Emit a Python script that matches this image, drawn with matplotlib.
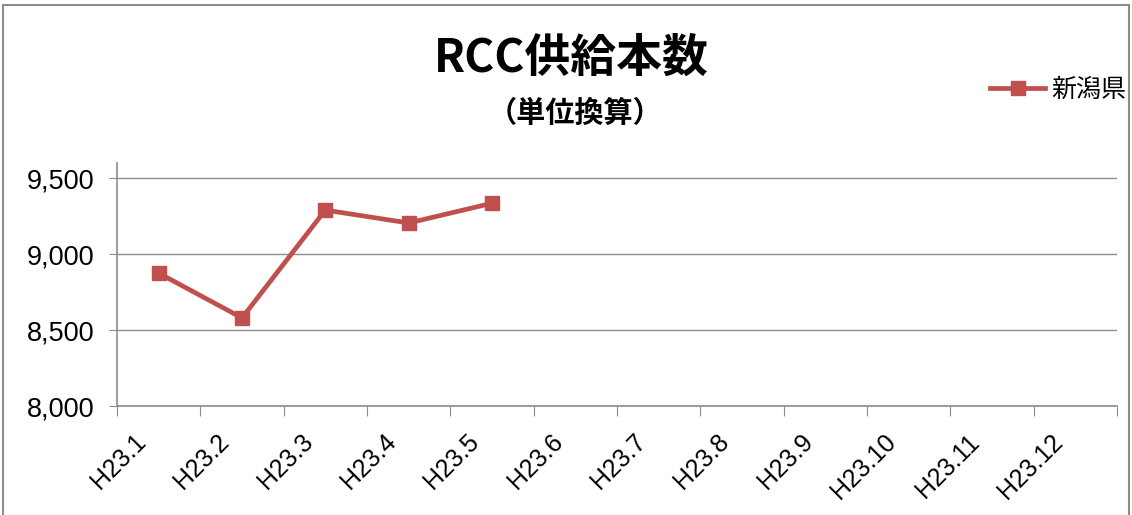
import matplotlib
matplotlib.use('Agg')
import matplotlib.pyplot as plt
from matplotlib.patches import Rectangle

months = ['H23.1', 'H23.2', 'H23.3', 'H23.4', 'H23.5', 'H23.6',
          'H23.7', 'H23.8', 'H23.9', 'H23.10', 'H23.11', 'H23.12']
niigata = [8875, 8580, 9290, 9205, 9335]
yticks = [8000, 8500, 9000, 9500]

cjk = ['Noto Sans CJK JP', 'DejaVu Sans']
latin = ['Liberation Sans', 'DejaVu Sans']

fig = plt.figure(figsize=(11.32, 5.15), dpi=100, facecolor='white')
ax = fig.add_axes([117 / 1132, 1 - 406 / 515, 1000 / 1132, 243 / 515])

x = list(range(len(niigata)))
ax.plot(x, niigata, color='#C0504D', lw=3.4, marker='s', markersize=10,
        markeredgecolor='#C0504D', markerfacecolor='#C0504D', label='新潟県',
        solid_joinstyle='round', zorder=3)

ax.set_xlim(-0.5, len(months) - 0.5)
ax.set_ylim(8000, 9600)
ax.set_yticks(yticks)
ax.set_yticklabels([f'{v:,}' for v in yticks], family=latin, fontsize=19.5)
ax.grid(axis='y', color='#8c8c8c', lw=1)
ax.set_axisbelow(True)

# category ticks sit between categories; rotated labels end a bit left of centre
ax.set_xticks([i - 0.5 for i in range(len(months) + 1)])
ax.set_xticklabels([])
ax.set_xticks([i - 0.3 for i in range(len(months))], minor=True)
ax.set_xticklabels(months, minor=True, rotation=45, ha='right', va='top',
                   rotation_mode='anchor', family=latin, fontsize=18)
ax.tick_params(axis='x', which='major', length=7, color='#8c8c8c', direction='out')
ax.tick_params(axis='x', which='minor', length=0, pad=17)
ax.tick_params(axis='y', length=6, color='#8c8c8c', pad=10)

for s in ['top', 'right']:
    ax.spines[s].set_visible(False)
for s in ['left', 'bottom']:
    ax.spines[s].set_color('#8c8c8c')
    ax.spines[s].set_linewidth(1.2)

fig.text(0.505, 0.885, 'RCC供給本数', family=cjk, fontsize=33, fontweight='bold',
         ha='center', va='center')
fig.text(0.508, 0.78, '（単位換算）', family=cjk, fontsize=21, fontweight='bold',
         ha='center', va='center')

leg = fig.legend(loc='center right', bbox_to_anchor=(1.006, 0.825), frameon=False,
                 prop={'family': cjk, 'size': 18}, handlelength=2.2,
                 handletextpad=0.25, borderaxespad=0.1)

fig.patches.append(Rectangle((0.003, -0.01), 0.994, 1.0, transform=fig.transFigure,
                             fill=False, edgecolor='#8c8c8c', lw=1.5))

fig.savefig('out.png', dpi=100, facecolor='white')
